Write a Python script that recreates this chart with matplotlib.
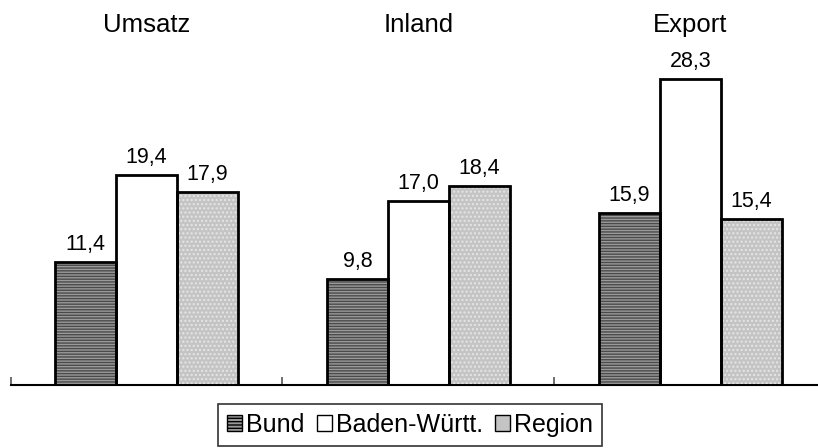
import matplotlib.pyplot as plt
from matplotlib.patches import Patch
import numpy as np

plt.rcParams['font.family'] = ['Liberation Sans', 'DejaVu Sans']

groups = ['Umsatz', 'Inland', 'Export']
series = ['Bund', 'Baden-Württ.', 'Region']
bund = [11.4, 9.8, 15.9]
bw = [19.4, 17.0, 28.3]
region = [17.9, 18.4, 15.4]

faces = ['#9a9a9a', 'white', '#c4c4c4']
hatches = ['------', None, '....']
hatch_cols = ['#4a4a4a', None, '#e6e6e6']

W, H = 818, 448
fig = plt.figure(figsize=(W / 100, H / 100), dpi=100)
ax = fig.add_axes([10.5 / W, (H - 385) / H, 807.5 / W, 324 / H])

x = np.arange(len(groups))
bw_width = 0.224
for i, vals in enumerate([bund, bw, region]):
    pos = x + (i - 1) * bw_width
    ax.bar(pos, vals, width=bw_width, color=faces[i], edgecolor='none', zorder=2)
    if hatches[i]:
        ax.bar(pos, vals, width=bw_width, color='none', edgecolor=hatch_cols[i],
               hatch=hatches[i], linewidth=0, zorder=3)
    ax.bar(pos, vals, width=bw_width, color='none', edgecolor='black', linewidth=2, zorder=4)
    for p, v in zip(pos, vals):
        ax.text(p, v + 0.65, f'{v:.1f}'.replace('.', ','), ha='center', va='bottom', fontsize=15.5)

for xi, g in zip(x, groups):
    ax.text(xi, 33.3, g, ha='center', va='center', fontsize=18.5, clip_on=False)

ax.set_xlim(-0.5, 2.469)
ax.set_ylim(0, 30)
for s in ['top', 'right', 'left']:
    ax.spines[s].set_visible(False)
ax.spines['bottom'].set_linewidth(1.5)
ax.set_xticks([-0.5, 0.5, 1.5])
ax.set_xticklabels([])
ax.tick_params(axis='x', direction='in', length=6, width=1.2, color='#555555')
ax.set_yticks([])

handles = [Patch(facecolor=faces[0], edgecolor='black', hatch='-----'),
           Patch(facecolor='white', edgecolor='black'),
           Patch(facecolor=faces[2], edgecolor='black')]
leg = fig.legend(handles, series, loc='center', bbox_to_anchor=(410 / W, 1 - 425 / H),
                 ncol=3, fontsize=18, frameon=True, fancybox=False, edgecolor='black',
                 handlelength=0.6, handleheight=0.6, handletextpad=0.15, columnspacing=0.5,
                 borderpad=0.35, borderaxespad=0)
leg.get_frame().set_linewidth(1.2)

fig.savefig('out.png', dpi=100)
